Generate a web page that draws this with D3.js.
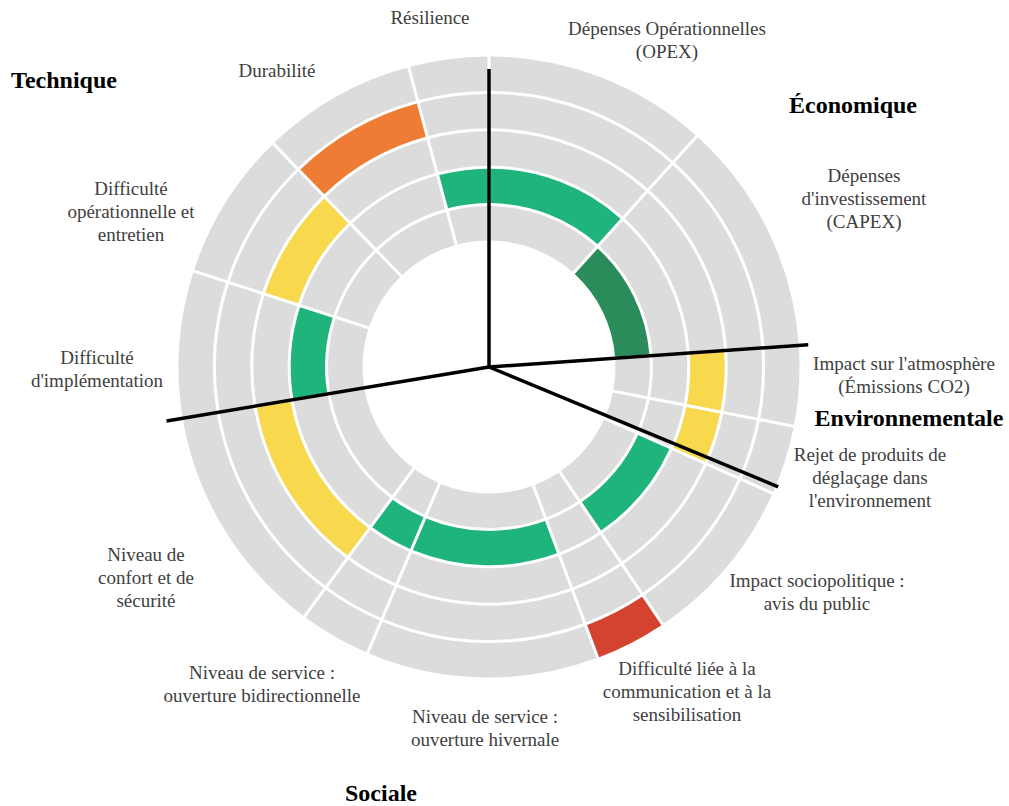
<!DOCTYPE html>
<html>
<head>
<meta charset="utf-8">
<script src="https://cdn.jsdelivr.net/npm/d3@7"></script>
<style>
  body { margin: 0; background: #fff; }
  svg text, svg tspan { font-family: "Liberation Serif", "DejaVu Serif", serif; }
</style>
</head>
<body>
<div id="chart"></div>
<script>
// criteria, clockwise from "Résilience"
const criteria = [
  ["Résilience"],
  ["Dépenses Opérationnelles", "(OPEX)"],
  ["Dépenses", "d'investissement", "(CAPEX)"],
  ["Impact sur l'atmosphère", "(Émissions CO2)"],
  ["Rejet de produits de", "déglaçage dans", "l'environnement"],
  ["Impact sociopolitique :", "avis du public"],
  ["Difficulté liée à la", "communication et à la", "sensibilisation"],
  ["Niveau de service :", "ouverture hivernale"],
  ["Niveau de service :", "ouverture bidirectionnelle"],
  ["Niveau de", "confort et de", "sécurité"],
  ["Difficulté", "d'implémentation"],
  ["Difficulté", "opérationnelle et", "entretien"],
  ["Durabilité"]
];
// angular share of each criterion (degrees)
const spans = [15, 42, 44, 15, 13, 32, 13.5, 43.5, 13.5, 44, 27.5, 28, 29];
// score level 1 (best) .. 5 (worst)
const levels = [2, 2, 1, 3, 3, 2, 5, 2, 2, 3, 2, 3, 4];
const levelDomain = [1, 2, 3, 4, 5];
const levelColors = ["#2a8c5b", "#1fb47b", "#f8d84c", "#ee7c35", "#d4432f"];

// category dividers (degrees clockwise from top)
const categories = ["Technique", "Économique", "Environnementale", "Sociale"];
const dividerAngles = [0, 86, 112.5, 260.5];

// ---- layout ----
const width = 1009, height = 806;
const cx = 489, cy = 367;
const dividerLen = [298, 320, 313, 327];
const labelXY = [
  [430, 17], [667, 28], [864, 175], [904, 363], [870, 454], [817, 580],
  [687, 668], [485, 716], [262, 672], [146, 554], [97, 357], [131, 188], [277, 70]
];
const categoryXY = [[64, 80], [853, 105], [909, 418], [381, 793]];
const lineH = 23;

const rad = (d) => (d * Math.PI) / 180;

const svg = d3
  .select("#chart")
  .append("svg")
  .attr("width", width)
  .attr("height", height);

const g = svg.append("g").attr("transform", `translate(${cx},${cy})`);

const ring = d3.scaleLinear().domain([0, 5]).range([125, 312]);
const color = d3.scaleOrdinal(levelDomain, levelColors);

const pie = d3
  .pie()
  .sort(null)
  .value((d) => d)
  .startAngle(rad(-15))
  .endAngle(rad(345));
const slices = pie(spans);

const cells = [];
slices.forEach((s, i) => {
  levelDomain.forEach((lv) => {
    cells.push({
      startAngle: s.startAngle,
      endAngle: s.endAngle,
      level: lv,
      fill: lv === levels[i] ? color(lv) : "#dcdcdc",
    });
  });
});

const arc = d3
  .arc()
  .innerRadius((d) => ring(d.level - 1) + 1.5)
  .outerRadius((d) => ring(d.level) - 1.5)
  .padAngle(0.03)
  .padRadius(100);

g.append("g")
  .selectAll("path")
  .data(cells)
  .join("path")
  .attr("d", arc)
  .attr("fill", (d) => d.fill);

// black category dividers
g.append("g")
  .selectAll("line")
  .data(dividerAngles)
  .join("line")
  .attr("x1", 0)
  .attr("y1", 0)
  .attr("x2", (d, i) => Math.sin(rad(d)) * dividerLen[i])
  .attr("y2", (d, i) => -Math.cos(rad(d)) * dividerLen[i])
  .attr("stroke", "#000")
  .attr("stroke-width", 3.5)
  .attr("stroke-linecap", "butt");

// criterion labels
const lab = svg
  .append("g")
  .selectAll("text")
  .data(criteria)
  .join("text")
  .attr("text-anchor", "middle")
  .attr("font-family", "Liberation Serif, serif")
  .attr("fill", "#404040")
  .attr("font-size", 19);
lab
  .selectAll("tspan")
  .data((d, i) => d.map((t) => ({ t, i })))
  .join("tspan")
  .attr("x", (d) => labelXY[d.i][0])
  .attr("y", (d, j) => labelXY[d.i][1] + j * lineH)
  .attr("dominant-baseline", "central")
  .text((d) => d.t);

// category labels
svg
  .append("g")
  .selectAll("text")
  .data(categories)
  .join("text")
  .attr("x", (d, i) => categoryXY[i][0])
  .attr("y", (d, i) => categoryXY[i][1])
  .attr("text-anchor", "middle")
  .attr("dominant-baseline", "central")
  .attr("font-family", "Liberation Serif, serif")
  .attr("font-weight", "bold")
  .attr("font-size", 24)
  .attr("fill", "#000")
  .text((d) => d);
</script>
</body>
</html>
